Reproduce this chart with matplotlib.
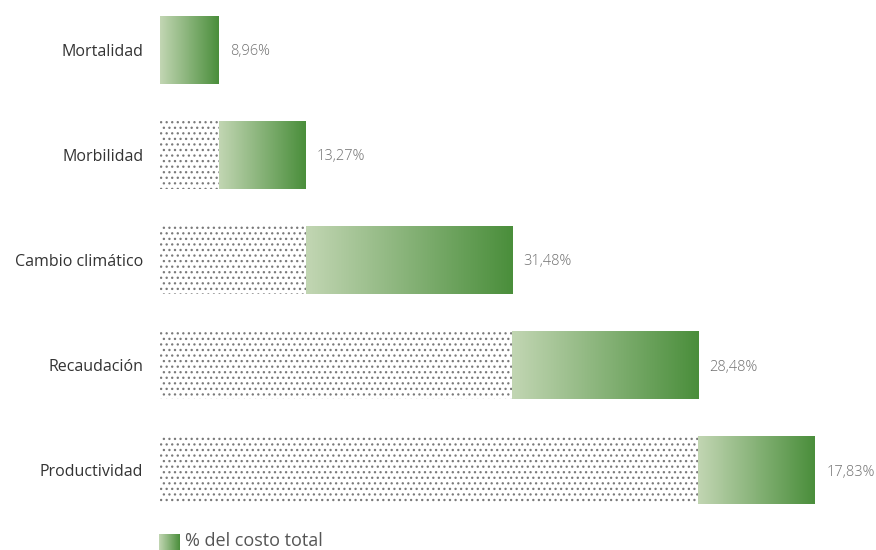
import numpy as np
import matplotlib.pyplot as plt
from matplotlib.colors import LinearSegmentedColormap

categorias = ['Mortalidad', 'Morbilidad', 'Cambio climático', 'Recaudación', 'Productividad']
valores = [8.96, 13.27, 31.48, 28.48, 17.83]
etiquetas = ['8,96%', '13,27%', '31,48%', '28,48%', '17,83%']
leyenda = '% del costo total'

plt.rcParams['font.family'] = ['Open Sans', 'DejaVu Sans']
plt.rcParams['hatch.linewidth'] = 0.9

verde = LinearSegmentedColormap.from_list('verde', ['#c2d6b3', '#4a8e3b'])
grad = np.linspace(0, 1, 256).reshape(1, -1)

fig = plt.figure(figsize=(8.76, 5.5), dpi=100)
ax = fig.add_axes([160/876, 30/550, (876-160)/876, 520/550])

inicio = np.concatenate([[0], np.cumsum(valores)[:-1]])
alto = 0.64
for i, (x0, v, lab) in enumerate(zip(inicio, valores, etiquetas)):
    if x0 > 0:
        ax.bar(x0/2, alto, width=x0, bottom=i - alto/2, color='white',
               edgecolor='#7a7a7a', linewidth=0, hatch='...')
    ax.imshow(grad, cmap=verde, aspect='auto',
              extent=[x0, x0 + v, i + alto/2, i - alto/2], zorder=2)
    ax.text(x0 + v + 1.7, i, lab, va='center_baseline', ha='left', fontsize=10.5,
            color='#707070', fontweight='light')

ax.set_xlim(0, 109.3)
ax.set_ylim(4.476, -0.476)
ax.set_yticks(range(len(categorias)))
ax.set_yticklabels(categorias, fontsize=11.5, color='#333333', va='center_baseline')
ax.tick_params(axis='y', length=0, pad=12)
ax.set_xticks([])
for s in ax.spines.values():
    s.set_visible(False)

# leyenda
lax = fig.add_axes([159/876, 0/550, 21/876, 16/550])
lax.imshow(grad, cmap=verde, aspect='auto')
lax.axis('off')
fig.text(185/876, 9/550, leyenda, fontsize=13, color='#555555', va='center', ha='left')

plt.savefig('out.png', dpi=100)
